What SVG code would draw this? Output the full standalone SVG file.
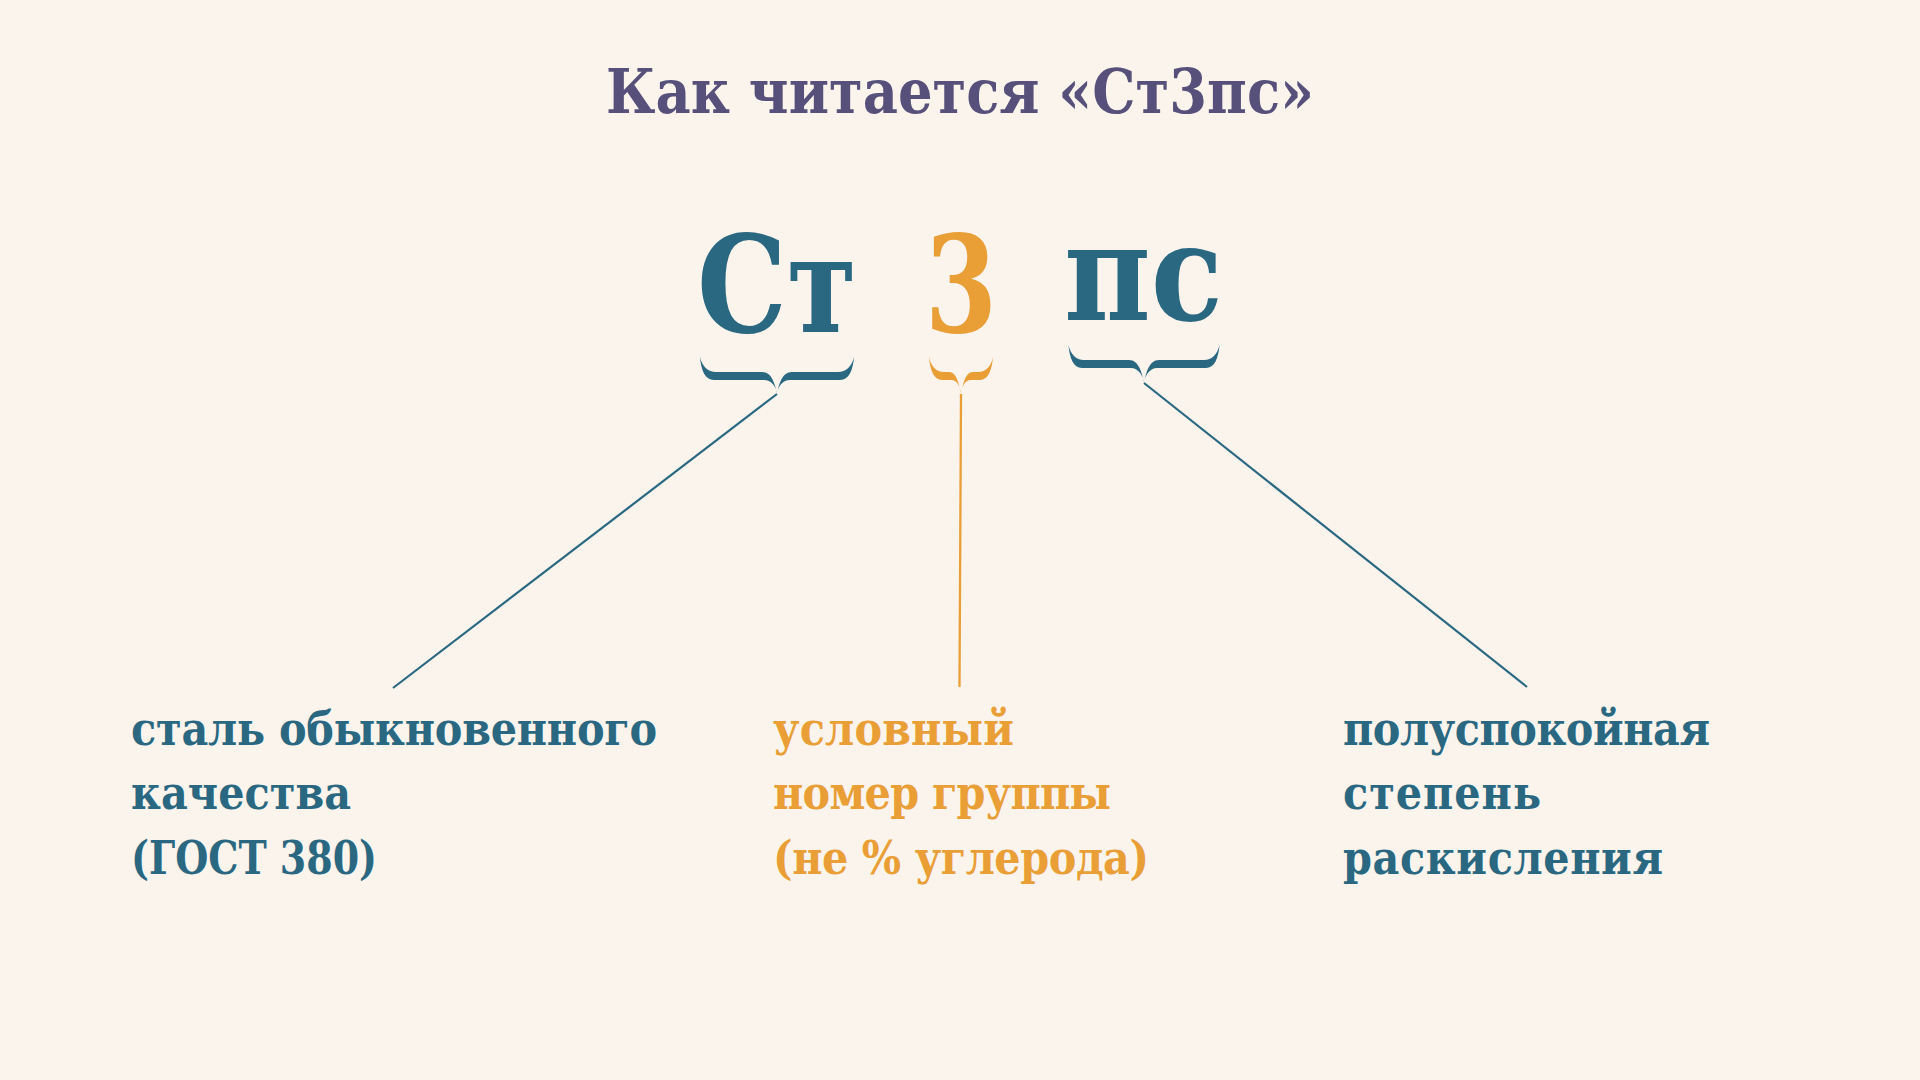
<svg xmlns="http://www.w3.org/2000/svg" width="1920" height="1080" viewBox="0 0 1920 1080">
  <style>
    .serif { font-family: "DejaVu Serif Condensed", "DejaVu Serif", "Liberation Serif", serif; font-stretch: condensed; font-weight: bold; }
    .title { font-size: 62px; fill: #56507a; }
    .big { font-size: 134px; }
    .lbl { font-size: 46px; }
    .teal { fill: #2a6882; }
    .orange { fill: #e99e36; }
    .conn-teal { stroke: #2a6882; stroke-width: 2.2; fill: none; }
    .conn-orange { stroke: #e99e36; stroke-width: 2.3; fill: none; }
  </style>
  <rect x="0" y="0" width="1920" height="1080" fill="#faf4ed"/>

  <g id="title">
    <text class="serif title" x="960" y="113" text-anchor="middle" textLength="708" lengthAdjust="spacingAndGlyphs">Как читается «Ст3пс»</text>
  </g>

  <g id="node-st">
    <text class="serif big teal" x="697" y="332" textLength="160" lengthAdjust="spacingAndGlyphs">Ст</text>
    <path class="teal" d="M700,357 C701,370 705,380 714,380 L764,380 C771,380 776,386 777,394 C775,384 772,372 762,372 L716,372 C708,372 702,366 700,357 Z M854,357 C853,370 849,380 840,380 L790,380 C783,380 778,386 777,394 C779,384 782,372 792,372 L838,372 C846,372 852,366 854,357 Z"/>
  </g>

  <g id="node-3">
    <text class="serif big orange" x="925" y="332" textLength="72" lengthAdjust="spacingAndGlyphs">3</text>
    <path class="orange" d="M929,357 C930,370 934,380 942,380 L951,380 C957,380 960,386 961,394 C959,385 957,372 949,372 L944,372 C936,372 931,366 929,357 Z M993,357 C992,370 988,380 980,380 L971,380 C965,380 962,386 961,394 C963,385 965,372 973,372 L978,372 C986,372 991,366 993,357 Z"/>
  </g>

  <g id="node-ps">
    <text class="serif big teal" x="1064" y="320" textLength="159" lengthAdjust="spacingAndGlyphs">пс</text>
    <path class="teal" d="M1068.5,345 C1069.5,358 1073.5,368 1082,368 L1131,368 C1138,368 1143,375 1144,383 C1142,373 1139,360 1129,360 L1084,360 C1076,360 1070.5,354 1068.5,345 Z M1219.5,345 C1218.5,358 1214.5,368 1206,368 L1157,368 C1150,368 1145,375 1144,383 C1146,373 1149,360 1159,360 L1204,360 C1212,360 1217.5,354 1219.5,345 Z"/>
  </g>

  <g id="connectors">
    <line class="conn-teal" x1="777" y1="394" x2="393" y2="688"/>
    <line class="conn-orange" x1="961" y1="394" x2="959.5" y2="687"/>
    <line class="conn-teal" x1="1144" y1="383" x2="1527" y2="687"/>
  </g>

  <g id="label-st">
    <text class="serif lbl teal" x="131" y="745" textLength="526" lengthAdjust="spacing">сталь обыкновенного</text>
    <text class="serif lbl teal" x="131" y="809" textLength="220" lengthAdjust="spacing">качества</text>
    <text class="serif lbl teal" x="131" y="874" textLength="246" lengthAdjust="spacingAndGlyphs">(ГОСТ 380)</text>
  </g>

  <g id="label-3">
    <text class="serif lbl orange" x="773" y="745" textLength="241" lengthAdjust="spacing">условный</text>
    <text class="serif lbl orange" x="773" y="809" textLength="338" lengthAdjust="spacing">номер группы</text>
    <text class="serif lbl orange" x="773" y="874" textLength="376" lengthAdjust="spacing">(не % углерода)</text>
  </g>

  <g id="label-ps">
    <text class="serif lbl teal" x="1343" y="745" textLength="367" lengthAdjust="spacing">полуспокойная</text>
    <text class="serif lbl teal" x="1343" y="809" textLength="198" lengthAdjust="spacing">степень</text>
    <text class="serif lbl teal" x="1343" y="874" textLength="320" lengthAdjust="spacing">раскисления</text>
  </g>
</svg>
